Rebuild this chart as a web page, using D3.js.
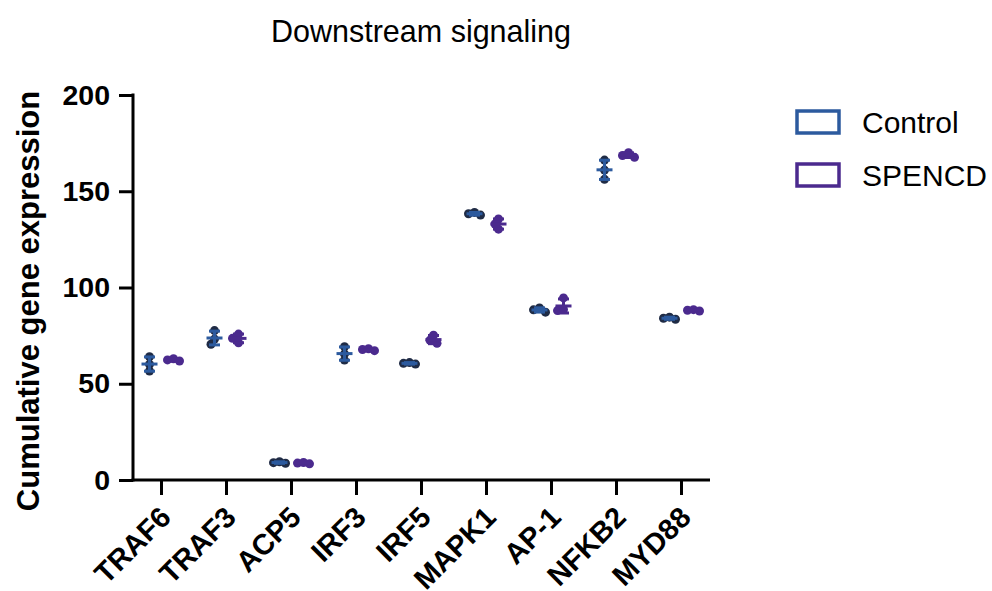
<!DOCTYPE html>
<html>
<head>
<meta charset="utf-8">
<script src="https://cdn.jsdelivr.net/npm/d3@7"></script>
<style>
	body{margin:0;background:#fff;}
	svg{display:block;font-family:"Liberation Sans",Arial,sans-serif;}
</style>
</head>
<body>
<div id="chart"></div>
<script>

const genes = ['TRAF6','TRAF3','ACP5','IRF3','IRF5','MAPK1','AP-1','NFKB2','MYD88'];
const seriesNames = ['Control','SPENCD'];
// three replicates per gene
const controlValues = [
	[64.0,60.1,56.6],[77.6,73.2,70.5],[9.5,9.0,8.7],[69.2,65.5,62.3],[60.2,60.6,61.0],
	[137.6,138.3,139.0],[87.2,88.4,89.4],[166.2,161.0,156.2],[83.5,84.0,84.6]
];
const spencdValues = [
	[61.8,62.4,63.0],[75.8,73.6,71.3],[8.4,8.8,9.1],[67.2,67.8,68.2],[75.2,72.6,71.0],
	[135.6,133.0,130.3],[94.6,88.0,88.6],[170.0,168.6,167.6],[87.8,88.2,88.5]
];
const yTicks = [0,50,100,150,200];

const W = 992, H = 591;
const lineColor = ['#2c5a9e','#4b2a8e'];
const dotColor = ['#1f2b45','#4b2a8e'];

const svg = d3.select('#chart').append('svg')
	.attr('width', W).attr('height', H);

const y = d3.scaleLinear().domain([0,200]).range([480,95]);
const x = d3.scaleBand().domain(genes).range([129,714]);
const sub = d3.scalePoint().domain(seriesNames).range([-12,12]);

// title
svg.append('text')
	.attr('x', 421).attr('y', 42)
	.attr('text-anchor','middle')
	.style('font-size','30.5px')
	.text('Downstream signaling');

// y axis
const yAxis = svg.append('g')
	.attr('transform','translate(133,0)')
	.call(d3.axisLeft(y).tickValues(yTicks).tickSize(14).tickPadding(9).tickSizeOuter(0));
yAxis.select('.domain').attr('stroke-width',3).attr('d','M0,'+(y(200)-1.5)+'V'+(y(0)+1.5));
yAxis.selectAll('.tick line').attr('stroke-width',3);
yAxis.selectAll('.tick text')
	.style('font-size','28.5px').style('font-weight','bold').attr('fill','#000');

// x axis
const xAxis = svg.append('g')
	.attr('transform','translate(0,480)')
	.call(d3.axisBottom(x).tickSize(15).tickSizeOuter(0));
xAxis.select('.domain').attr('stroke-width',3).attr('d','M131.5,0H710');
xAxis.selectAll('.tick line').attr('stroke-width',3);
xAxis.selectAll('.tick text')
	.style('font-size','29px').style('font-weight','bold').attr('fill','#000')
	.attr('text-anchor','end')
	.attr('x',0).attr('y',0).attr('dy','0.35em')
	.attr('transform','translate(4,32) rotate(-45)');

// y axis title
svg.append('text')
	.attr('transform','translate(39,301) rotate(-90)')
	.attr('text-anchor','middle')
	.style('font-size','31px').style('font-weight','bold')
	.text('Cumulative gene expression');

// simple swarm offsets so overlapping dots shift sideways a little
const r = 4.5;
function swarm(vals){
	const placed = [];
	const order = vals.map((v,i)=>i).sort((a,b)=>vals[b]-vals[a]);
	const out = new Array(vals.length).fill(0);
	order.forEach(i=>{
		const py = y(vals[i]);
		const cands = [0,-3.5,3.5,-6,6];
		let best = 0;
		for(const c of cands){
			const ok = placed.every(p=>Math.hypot(p.x-c,p.y-py) >= 1.3*r);
			if(ok){best = c;break;}
		}
		placed.push({x:best,y:py});
		out[i] = best;
	});
	return out;
}

const allSeries = [controlValues, spencdValues];
const groups = [];
genes.forEach((g,gi)=>{
	allSeries.forEach((s,si)=>{
		const vals = s[gi];
		groups.push({gene:g, si:si, vals:vals, mean:d3.mean(vals), sd:d3.deviation(vals)});
	});
});

const grp = svg.selectAll('.grp').data(groups).enter()
	.append('g').attr('class','grp')
	.attr('transform',d=>`translate(${x(d.gene)+x.bandwidth()/2+sub(seriesNames[d.si])},0)`);

grp.each(function(d){
	const gsel = d3.select(this);
	const offs = swarm(d.vals);
	const c = lineColor[d.si];
	gsel.selectAll('circle').data(d.vals).enter().append('circle')
		.attr('cx',(v,i)=>offs[i]).attr('cy',v=>y(v)).attr('r',r)
		.attr('fill',dotColor[d.si]);
	gsel.append('line').attr('x1',0).attr('x2',0)
		.attr('y1',y(d.mean+d.sd)).attr('y2',y(d.mean-d.sd))
		.attr('stroke',c).attr('stroke-width',3);
	gsel.append('line').attr('x1',-5.5).attr('x2',5.5)
		.attr('y1',y(d.mean+d.sd)).attr('y2',y(d.mean+d.sd))
		.attr('stroke',c).attr('stroke-width',3);
	gsel.append('line').attr('x1',-5.5).attr('x2',5.5)
		.attr('y1',y(d.mean-d.sd)).attr('y2',y(d.mean-d.sd))
		.attr('stroke',c).attr('stroke-width',3);
	gsel.append('line').attr('x1',-8).attr('x2',8)
		.attr('y1',y(d.mean)).attr('y2',y(d.mean))
		.attr('stroke',c).attr('stroke-width',3);
});

// legend
const legend = svg.selectAll('.leg').data(seriesNames).enter()
	.append('g').attr('class','leg')
	.attr('transform',(d,i)=>`translate(797,${111+i*53})`);
legend.append('rect')
	.attr('width',42).attr('height',22)
	.attr('fill','#fff')
	.attr('stroke',(d,i)=>lineColor[i]).attr('stroke-width',3.5);
legend.append('text')
	.attr('x',65).attr('y',22)
	.style('font-size','30px')
	.text(d=>d);

</script>
</body>
</html>
